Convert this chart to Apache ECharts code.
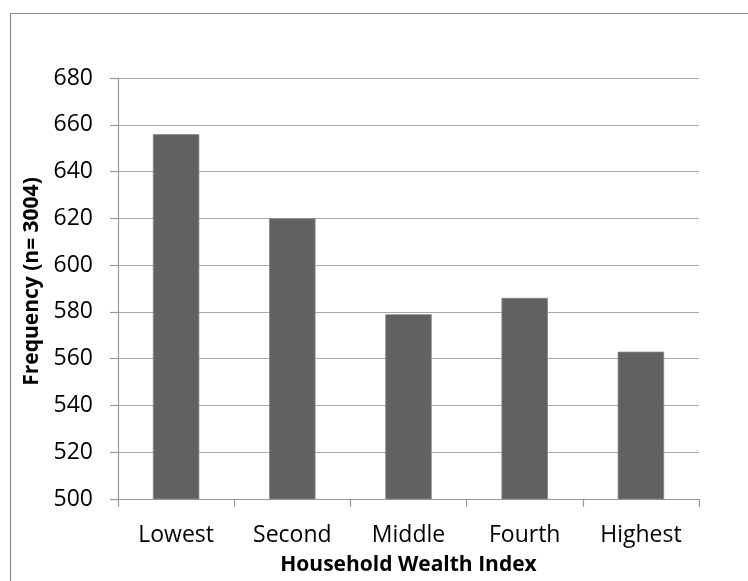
<!DOCTYPE html>
<html>
<head>
<meta charset="utf-8">
<script src="https://cdn.jsdelivr.net/npm/echarts@6/dist/echarts.min.js"></script>
<style>
  html, body { margin: 0; padding: 0; background: #ffffff; }
  #chart { width: 748px; height: 581px; }
</style>
</head>
<body>
<div id="chart"></div>
<script>
// Household wealth quintiles and respondent counts
const categories = ['Lowest', 'Second', 'Middle', 'Fourth', 'Highest'];
const frequency = [656, 620, 579, 586, 563];
const yTicks = { min: 500, max: 680, interval: 20 };

const FONT = '"Open Sans", Lato, sans-serif';

const chart = echarts.init(document.getElementById('chart'), null, { renderer: 'canvas' });

chart.setOption({
  animation: false,
  backgroundColor: '#ffffff',
  graphic: [{
    type: 'rect',
    left: 8, top: 11,
    shape: { width: 900, height: 700 },
    style: { fill: 'none', stroke: '#8f8f8f', lineWidth: 1.2 },
    silent: true, z: -1
  }],
  grid: { left: 118, right: 49, top: 78, bottom: 80.5, containLabel: false },
  xAxis: {
    type: 'category',
    data: categories,
    name: 'Household Wealth Index',
    nameLocation: 'middle',
    nameGap: 56,
    nameTextStyle: { fontFamily: FONT, fontSize: 21, fontWeight: 'bold', color: '#000' },
    axisLine: { lineStyle: { color: '#9a9a9a', width: 1.2 } },
    axisTick: { show: true, alignWithLabel: false, length: 8, lineStyle: { color: '#9a9a9a', width: 1.2 } },
    axisLabel: { fontFamily: FONT, fontSize: 23, color: '#000', margin: 25 },
    splitLine: { show: false }
  },
  yAxis: {
    type: 'value',
    min: yTicks.min, max: yTicks.max, interval: yTicks.interval,
    name: 'Frequency (n= 3004)',
    nameLocation: 'middle',
    nameGap: 59,
    nameTextStyle: { fontFamily: FONT, fontSize: 21, fontWeight: 'bold', color: '#000', padding: [0, 0, 0, 14] },
    axisLine: { show: true, lineStyle: { color: '#9a9a9a', width: 1.2 } },
    axisTick: { show: true, length: 8, lineStyle: { color: '#9a9a9a', width: 1.2 } },
    axisLabel: { fontFamily: FONT, fontSize: 23, color: '#000', margin: 25 },
    splitLine: { show: true, lineStyle: { color: '#a8a8a8', width: 1.2 } }
  },
  series: [{
    type: 'bar',
    data: frequency,
    barWidth: '40%',
    itemStyle: { color: '#616161', borderColor: '#8a8a8a', borderWidth: 0.8 }
  }]
});
</script>
</body>
</html>
